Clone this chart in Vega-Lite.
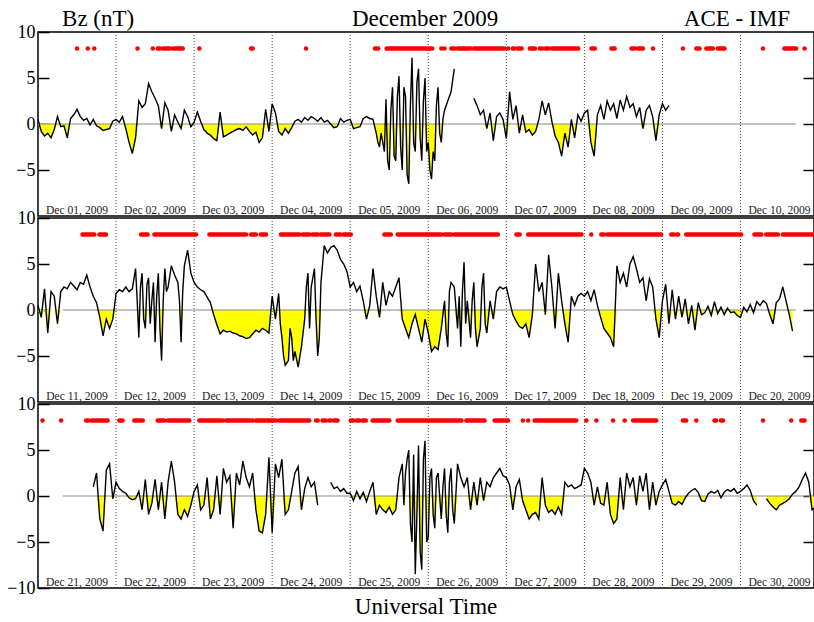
{
"$schema":"https://vega.github.io/schema/vega-lite/v6.json",
"background":"white",
"padding":{"left":6,"top":7,"right":0,"bottom":0},
"spacing":2,
"bounds":"flush",
"title":{"text":"Universal Time","orient":"bottom","anchor":"middle","frame":"group","fontSize":23,"font":"Liberation Serif","fontWeight":"normal","color":"black","offset":-2},
"config":{"view":{"stroke":"black","strokeWidth":1.5},"font":"Liberation Serif","text":{"font":"Liberation Serif"},"axis":{"labelFont":"Liberation Serif","titleFont":"Liberation Serif"}},
"datasets":{
"sep":[{"h":24},{"h":48},{"h":72},{"h":96},{"h":120},{"h":144},{"h":168},{"h":192},{"h":216}],
"lab1":[{"h":12,"t":"Dec 01, 2009"},{"h":36,"t":"Dec 02, 2009"},{"h":60,"t":"Dec 03, 2009"},{"h":84,"t":"Dec 04, 2009"},{"h":108,"t":"Dec 05, 2009"},{"h":132,"t":"Dec 06, 2009"},{"h":156,"t":"Dec 07, 2009"},{"h":180,"t":"Dec 08, 2009"},{"h":204,"t":"Dec 09, 2009"},{"h":228,"t":"Dec 10, 2009"}],
"lab2":[{"h":12,"t":"Dec 11, 2009"},{"h":36,"t":"Dec 12, 2009"},{"h":60,"t":"Dec 13, 2009"},{"h":84,"t":"Dec 14, 2009"},{"h":108,"t":"Dec 15, 2009"},{"h":132,"t":"Dec 16, 2009"},{"h":156,"t":"Dec 17, 2009"},{"h":180,"t":"Dec 18, 2009"},{"h":204,"t":"Dec 19, 2009"},{"h":228,"t":"Dec 20, 2009"}],
"lab3":[{"h":12,"t":"Dec 21, 2009"},{"h":36,"t":"Dec 22, 2009"},{"h":60,"t":"Dec 23, 2009"},{"h":84,"t":"Dec 24, 2009"},{"h":108,"t":"Dec 25, 2009"},{"h":132,"t":"Dec 26, 2009"},{"h":156,"t":"Dec 27, 2009"},{"h":180,"t":"Dec 28, 2009"},{"h":204,"t":"Dec 29, 2009"},{"h":228,"t":"Dec 30, 2009"}],
"r1":[{"a":12,"b":12},{"a":15.3,"b":15.3},{"a":17.3,"b":17.3},{"a":30.6,"b":30.6},{"a":35.3,"b":35.3},{"a":36.8,"b":37.5},{"a":38.5,"b":40.5},{"a":41.5,"b":44.5},{"a":49.6,"b":49.6},{"a":65.5,"b":66},{"a":82.4,"b":82.4},{"a":103.6,"b":104.6},{"a":107.2,"b":121.2},{"a":124,"b":124},{"a":125,"b":125},{"a":127.1,"b":128},{"a":129,"b":130.2},{"a":130.7,"b":133},{"a":134,"b":143.5},{"a":144.6,"b":144.6},{"a":146,"b":146.5},{"a":147.5,"b":148.7},{"a":151.2,"b":152.8},{"a":154.3,"b":155},{"a":156,"b":157},{"a":158,"b":166.1},{"a":170.2,"b":171.2},{"a":176.3,"b":177.3},{"a":182.5,"b":183.5},{"a":184.5,"b":186},{"a":189.1,"b":189.1},{"a":198.3,"b":198.3},{"a":202.4,"b":203.4},{"a":205.5,"b":207.5},{"a":209,"b":211.1},{"a":222.9,"b":222.9},{"a":229.5,"b":233.1},{"a":235.7,"b":235.7}],
"r2":[{"a":13.7,"b":17.3},{"a":18.9,"b":20.9},{"a":31.7,"b":33.7},{"a":35.8,"b":48.6},{"a":52.7,"b":58.8},{"a":59.3,"b":64},{"a":65.5,"b":67},{"a":68.5,"b":70.1},{"a":74.7,"b":80.3},{"a":81.4,"b":83.4},{"a":84.4,"b":86},{"a":87,"b":89.6},{"a":91.6,"b":93},{"a":94,"b":96.2},{"a":106.5,"b":108.5},{"a":110.6,"b":124},{"a":125,"b":127.1},{"a":128.1,"b":141.4},{"a":147.1,"b":148.1},{"a":150.7,"b":167.1},{"a":170.1,"b":170.1},{"a":173.2,"b":174},{"a":175,"b":191.6},{"a":194.7,"b":195.5},{"a":196.5,"b":196.8},{"a":199.3,"b":216.2},{"a":220.3,"b":222.4},{"a":223.9,"b":227.5},{"a":229,"b":238.6}],
"r3":[{"a":1.4,"b":1.4},{"a":7.1,"b":7.1},{"a":14.8,"b":15.5},{"a":16.5,"b":21.4},{"a":25,"b":26},{"a":29.6,"b":32.2},{"a":36.8,"b":38.8},{"a":39.9,"b":46.5},{"a":49.6,"b":56.8},{"a":57.8,"b":66},{"a":67,"b":73.2},{"a":74.2,"b":83.4},{"a":85.5,"b":86},{"a":87.5,"b":88.5},{"a":89.6,"b":90},{"a":91,"b":92.1},{"a":96.2,"b":97},{"a":98,"b":98.8},{"a":99.8,"b":100.8},{"a":102.9,"b":108},{"a":110.6,"b":130.2},{"a":131.7,"b":137.3},{"a":140.4,"b":144.5},{"a":149.1,"b":149.1},{"a":150.7,"b":150.7},{"a":152.7,"b":165.5},{"a":168.6,"b":168.6},{"a":171.7,"b":171.7},{"a":176.8,"b":176.8},{"a":180.4,"b":180.4},{"a":183,"b":190.1},{"a":198.3,"b":199.3},{"a":202.4,"b":202.4},{"a":208,"b":208.5},{"a":210,"b":210.6},{"a":222.9,"b":222.9},{"a":231.6,"b":231.6},{"a":234.7,"b":235.7}],
"p1":[{"h":0,"v":0.5},{"h":1,"v":-0.8},{"h":2,"v":-1.3},{"h":3,"v":-1.0},{"h":4,"v":-1.5},{"h":5,"v":-0.6},{"h":6,"v":0.8},{"h":7,"v":-0.3},{"h":8,"v":-0.2},{"h":9,"v":-1.5},{"h":10,"v":0.6},{"h":11,"v":1.0},{"h":12,"v":1.6},{"h":13,"v":0.8},{"h":14,"v":0.4},{"h":15,"v":0.6},{"h":16,"v":-0.1},{"h":17,"v":0.5},{"h":18,"v":-0.2},{"h":19,"v":-0.4},{"h":20,"v":-0.7},{"h":21,"v":-0.6},{"h":22,"v":-0.5},{"h":23,"v":0.3},
{"h":24,"v":0.5},{"h":25,"v":0.2},{"h":26,"v":0.8},{"h":27,"v":-0.5},{"h":28,"v":-2.0},{"h":29,"v":-3.2},{"h":30,"v":-1.5},{"h":31,"v":2.5},{"h":32,"v":1.8},{"h":33,"v":2.2},{"h":34,"v":4.4},{"h":35,"v":3.5},{"h":36,"v":2.8},{"h":37,"v":2.0},{"h":38,"v":-0.5},{"h":39,"v":2.3},{"h":40,"v":1.5},{"h":41,"v":-0.8},{"h":42,"v":1.0},{"h":43,"v":0.2},{"h":44,"v":-0.5},{"h":45,"v":1.5},{"h":46,"v":0.8},{"h":47,"v":-0.3},
{"h":48,"v":0.2},{"h":49,"v":1.3},{"h":50,"v":0.3},{"h":51,"v":-0.6},{"h":52,"v":-1.0},{"h":53,"v":-1.2},{"h":54,"v":-1.6},{"h":55,"v":-1.8},{"h":56,"v":1.3},{"h":57,"v":-1.4},{"h":58,"v":-1.2},{"h":59,"v":-1.0},{"h":60,"v":-0.8},{"h":61,"v":-0.6},{"h":62,"v":-0.5},{"h":63,"v":-0.7},{"h":64,"v":-0.3},{"h":65,"v":-0.8},{"h":66,"v":-1.2},{"h":67,"v":-0.9},{"h":68,"v":-2.0},{"h":69,"v":-1.5},{"h":70,"v":1.6},{"h":71,"v":-0.8},
{"h":72,"v":2.2},{"h":73,"v":1.2},{"h":74,"v":-0.8},{"h":75,"v":-1.2},{"h":76,"v":-0.5},{"h":77,"v":-1.0},{"h":78,"v":-0.4},{"h":79,"v":0.3},{"h":80,"v":0.5},{"h":81,"v":0.2},{"h":82,"v":0.7},{"h":83,"v":0.4},{"h":84,"v":0.8},{"h":85,"v":0.6},{"h":86,"v":0.3},{"h":87,"v":0.7},{"h":88,"v":0.2},{"h":89,"v":0.4},{"h":90,"v":0.0},{"h":91,"v":-0.4},{"h":92,"v":-0.3},{"h":93,"v":0.6},{"h":94,"v":0.2},{"h":95,"v":0.4},
{"h":96,"v":0.5},{"h":97,"v":-0.5},{"h":98,"v":-0.4},{"h":99,"v":-0.3},{"h":100,"v":0.6},{"h":101,"v":0.8},{"h":102,"v":0.6},{"h":103,"v":0.5},{"h":104,"v":-1.0},{"h":104.5,"v":-2.0},{"h":105,"v":-2.5},{"h":105.5,"v":-1.0},{"h":106,"v":-2.0},{"h":106.5,"v":-3.0},{"h":107,"v":2.7},{"h":107.5,"v":-4.0},{"h":108,"v":-5.0},{"h":108.5,"v":1.5},{"h":109,"v":4.0},{"h":109.5,"v":-3.5},{"h":110,"v":-4.0},{"h":110.5,"v":3.0},{"h":111,"v":5.2},{"h":111.5,"v":-2.5},{"h":112,"v":-5.0},{"h":112.5,"v":4.0},{"h":113,"v":3.0},{"h":113.5,"v":-5.5},{"h":114,"v":-6.5},{"h":114.5,"v":2.0},{"h":115,"v":7.2},{"h":115.5,"v":-2.0},{"h":116,"v":-3.0},{"h":116.5,"v":4.5},{"h":117,"v":6.0},{"h":117.5,"v":-1.5},{"h":118,"v":-4.0},{"h":118.5,"v":2.5},{"h":119,"v":5.0},{"h":119.5,"v":-3.0},
{"h":120,"v":-2.0},{"h":120.5,"v":-5.0},{"h":121,"v":-6.0},{"h":121.5,"v":-3.0},{"h":122,"v":-4.0},{"h":122.5,"v":2.0},{"h":123,"v":4.0},{"h":123.5,"v":-1.0},{"h":124,"v":-2.0},{"h":124.5,"v":0.5},{"h":125,"v":1.5},{"h":126,"v":2.5},{"h":127,"v":3.5},{"h":128,"v":6.0},{"h":130,"v":null},{"h":134,"v":2.8},{"h":135,"v":2.0},{"h":136,"v":1.0},{"h":137,"v":1.5},{"h":138,"v":-0.5},{"h":139,"v":1.2},{"h":140,"v":-1.8},{"h":141,"v":0.8},{"h":142,"v":1.2},{"h":143,"v":0.5},
{"h":144,"v":-1.6},{"h":145,"v":3.5},{"h":146,"v":0.5},{"h":147,"v":2.0},{"h":148,"v":-1.0},{"h":149,"v":1.0},{"h":150,"v":-0.9},{"h":151,"v":-0.6},{"h":152,"v":-1.2},{"h":153,"v":-0.8},{"h":154,"v":0.5},{"h":155,"v":2.5},{"h":156,"v":1.0},{"h":157,"v":2.3},{"h":158,"v":0.3},{"h":159,"v":-1.3},{"h":160,"v":-2.0},{"h":161,"v":-3.5},{"h":162,"v":-1.0},{"h":163,"v":-2.5},{"h":164,"v":0.5},{"h":165,"v":-1.5},{"h":166,"v":1.0},{"h":167,"v":0.3},
{"h":168,"v":1.2},{"h":169,"v":1.5},{"h":170,"v":-2.0},{"h":171,"v":-3.5},{"h":172,"v":1.0},{"h":173,"v":2.0},{"h":174,"v":0.5},{"h":175,"v":2.5},{"h":176,"v":1.5},{"h":177,"v":2.2},{"h":178,"v":0.6},{"h":179,"v":2.6},{"h":180,"v":1.5},{"h":181,"v":3.0},{"h":182,"v":1.8},{"h":183,"v":2.2},{"h":184,"v":0.8},{"h":185,"v":1.8},{"h":186,"v":-0.5},{"h":187,"v":1.5},{"h":188,"v":2.0},{"h":189,"v":0.8},{"h":190,"v":-1.8},{"h":191,"v":1.0},{"h":192,"v":2.2},{"h":193,"v":1.5},{"h":194,"v":2.0}],
"p2":[{"h":0,"v":0.5},{"h":1,"v":-0.8},{"h":2,"v":2.3},{"h":3,"v":-2.5},{"h":4,"v":2.0},{"h":5,"v":1.5},{"h":6,"v":-1.5},{"h":7,"v":2.0},{"h":8,"v":2.5},{"h":9,"v":2.3},{"h":10,"v":3.0},{"h":11,"v":2.6},{"h":12,"v":2.2},{"h":13,"v":3.0},{"h":14,"v":2.8},{"h":15,"v":3.8},{"h":16,"v":2.5},{"h":17,"v":1.5},{"h":18,"v":0.8},{"h":19,"v":-0.8},{"h":20,"v":-2.8},{"h":21,"v":-1.0},{"h":22,"v":-2.0},{"h":23,"v":-1.0},
{"h":24,"v":1.8},{"h":25,"v":2.2},{"h":26,"v":2.0},{"h":27,"v":2.5},{"h":28,"v":2.0},{"h":29,"v":2.3},{"h":30,"v":4.5},{"h":30.5,"v":1.0},{"h":31,"v":-3.0},{"h":31.5,"v":2.5},{"h":32,"v":4.0},{"h":32.5,"v":-1.0},{"h":33,"v":-2.0},{"h":33.5,"v":2.8},{"h":34,"v":3.5},{"h":34.5,"v":-1.5},{"h":35,"v":1.0},{"h":35.5,"v":3.0},{"h":36,"v":-3.5},{"h":36.5,"v":1.5},{"h":37,"v":4.0},{"h":37.5,"v":-2.0},{"h":38,"v":-5.5},{"h":38.5,"v":1.0},{"h":39,"v":4.5},{"h":39.5,"v":2.0},{"h":40,"v":2.5},{"h":41,"v":4.8},{"h":42,"v":3.8},{"h":43,"v":3.0},{"h":43.5,"v":1.0},{"h":44,"v":-3.5},{"h":44.5,"v":2.0},{"h":45,"v":4.8},{"h":46,"v":6.5},{"h":47,"v":4.0},
{"h":48,"v":3.0},{"h":49,"v":2.5},{"h":50,"v":2.2},{"h":51,"v":2.0},{"h":52,"v":1.4},{"h":53,"v":0.8},{"h":54,"v":-0.5},{"h":55,"v":-1.6},{"h":56,"v":-2.6},{"h":57,"v":-2.2},{"h":58,"v":-2.4},{"h":59,"v":-2.3},{"h":60,"v":-2.5},{"h":61,"v":-2.6},{"h":62,"v":-2.8},{"h":63,"v":-2.9},{"h":64,"v":-3.1},{"h":65,"v":-3.0},{"h":66,"v":-2.6},{"h":67,"v":-2.2},{"h":68,"v":-2.4},{"h":69,"v":-2.0},{"h":70,"v":-2.2},{"h":71,"v":-2.5},
{"h":72,"v":1.5},{"h":73,"v":-1.0},{"h":74,"v":1.8},{"h":74.5,"v":-1.5},{"h":75,"v":-3.0},{"h":75.5,"v":-5.0},{"h":76,"v":-6.0},{"h":77,"v":-5.5},{"h":77.5,"v":-2.0},{"h":78,"v":-3.0},{"h":78.5,"v":-5.5},{"h":79,"v":-4.5},{"h":80,"v":-6.2},{"h":81,"v":-4.0},{"h":82,"v":-1.0},{"h":82.5,"v":2.5},{"h":83,"v":4.0},{"h":83.5,"v":-2.0},{"h":84,"v":2.5},{"h":84.5,"v":3.5},{"h":85,"v":4.5},{"h":85.5,"v":-1.0},{"h":86,"v":-5.0},{"h":86.5,"v":-3.0},{"h":87,"v":3.0},{"h":87.5,"v":5.0},{"h":88,"v":7.0},{"h":89,"v":6.2},{"h":90,"v":6.8},{"h":91,"v":7.0},{"h":92,"v":6.5},{"h":93,"v":5.5},{"h":94,"v":5.0},{"h":95,"v":4.2},
{"h":96,"v":2.5},{"h":97,"v":3.0},{"h":98,"v":2.0},{"h":99,"v":2.6},{"h":100,"v":1.0},{"h":101,"v":-1.0},{"h":102,"v":0.5},{"h":103,"v":4.5},{"h":104,"v":1.5},{"h":105,"v":-0.8},{"h":106,"v":3.0},{"h":107,"v":0.5},{"h":108,"v":2.0},{"h":109,"v":1.5},{"h":110,"v":2.5},{"h":111,"v":3.5},{"h":112,"v":-1.0},{"h":113,"v":-2.0},{"h":114,"v":-3.0},{"h":115,"v":-1.5},{"h":116,"v":-0.5},{"h":117,"v":-2.0},{"h":118,"v":-3.5},{"h":119,"v":-1.0},
{"h":120,"v":-2.5},{"h":121,"v":-4.5},{"h":122,"v":-4.0},{"h":123,"v":-4.3},{"h":124,"v":-2.0},{"h":125,"v":1.0},{"h":125.5,"v":-2.5},{"h":126,"v":-4.0},{"h":126.5,"v":2.0},{"h":127,"v":3.0},{"h":128,"v":2.5},{"h":129,"v":-2.0},{"h":129.5,"v":1.5},{"h":130,"v":-4.0},{"h":130.5,"v":2.0},{"h":131,"v":5.2},{"h":131.5,"v":-1.5},{"h":132,"v":1.0},{"h":133,"v":-3.0},{"h":133.5,"v":1.0},{"h":134,"v":3.0},{"h":134.5,"v":-2.0},{"h":135,"v":-4.0},{"h":136,"v":-2.0},{"h":136.5,"v":2.5},{"h":137,"v":4.0},{"h":137.5,"v":-1.5},{"h":138,"v":-2.5},{"h":139,"v":1.0},{"h":140,"v":-1.0},{"h":141,"v":2.0},{"h":142,"v":2.5},{"h":143,"v":2.3},
{"h":144,"v":2.5},{"h":145,"v":1.0},{"h":146,"v":-0.5},{"h":147,"v":-1.2},{"h":148,"v":-1.8},{"h":149,"v":-2.0},{"h":150,"v":-1.5},{"h":151,"v":-3.0},{"h":152,"v":-0.5},{"h":153,"v":5.0},{"h":154,"v":2.0},{"h":155,"v":3.0},{"h":156,"v":-0.5},{"h":157,"v":6.0},{"h":158,"v":2.5},{"h":159,"v":-2.0},{"h":160,"v":4.0},{"h":161,"v":1.0},{"h":162,"v":-1.5},{"h":163,"v":-3.5},{"h":164,"v":1.5},{"h":165,"v":0.5},{"h":166,"v":1.5},{"h":167,"v":1.8},
{"h":168,"v":1.5},{"h":169,"v":2.0},{"h":170,"v":1.0},{"h":171,"v":2.2},{"h":172,"v":0.5},{"h":173,"v":-0.8},{"h":174,"v":-2.0},{"h":175,"v":-2.5},{"h":176,"v":-3.0},{"h":177,"v":-4.0},{"h":178,"v":4.8},{"h":179,"v":3.0},{"h":180,"v":4.0},{"h":181,"v":2.5},{"h":182,"v":5.0},{"h":183,"v":5.8},{"h":184,"v":4.5},{"h":185,"v":3.0},{"h":186,"v":3.5},{"h":187,"v":1.0},{"h":188,"v":3.4},{"h":189,"v":2.5},{"h":190,"v":-1.0},{"h":191,"v":-3.0},
{"h":192,"v":1.0},{"h":193,"v":2.8},{"h":194,"v":-1.5},{"h":195,"v":2.2},{"h":196,"v":-1.0},{"h":197,"v":1.5},{"h":198,"v":-0.8},{"h":199,"v":1.2},{"h":200,"v":-1.5},{"h":201,"v":0.5},{"h":202,"v":-2.2},{"h":203,"v":0.8},{"h":204,"v":-0.5},{"h":205,"v":-0.3},{"h":206,"v":0.4},{"h":207,"v":-0.6},{"h":208,"v":0.9},{"h":209,"v":-0.4},{"h":210,"v":0.3},{"h":211,"v":-0.5},{"h":212,"v":0.2},{"h":213,"v":-0.3},{"h":214,"v":-0.2},{"h":215,"v":-0.6},
{"h":216,"v":-0.8},{"h":217,"v":0.3},{"h":218,"v":-0.2},{"h":219,"v":0.6},{"h":220,"v":-0.3},{"h":221,"v":0.9},{"h":222,"v":0.5},{"h":223,"v":1.0},{"h":224,"v":0.7},{"h":225,"v":-0.5},{"h":226,"v":-1.5},{"h":227,"v":0.8},{"h":228,"v":1.2},{"h":229,"v":2.5},{"h":230,"v":1.0},{"h":231,"v":-0.5},{"h":232,"v":-2.3}],
"p3":[{"h":17,"v":1.0},{"h":18,"v":2.5},{"h":19,"v":-2.5},{"h":20,"v":-3.8},{"h":21,"v":2.8},{"h":22,"v":3.5},{"h":23,"v":-0.3},
{"h":24,"v":1.5},{"h":25,"v":0.8},{"h":26,"v":0.5},{"h":27,"v":0.3},{"h":28,"v":-0.2},{"h":29,"v":-0.4},{"h":30,"v":-0.3},{"h":31,"v":0.5},{"h":32,"v":-1.5},{"h":33,"v":1.8},{"h":34,"v":-2.0},{"h":35,"v":-0.8},{"h":36,"v":1.8},{"h":37,"v":-1.5},{"h":38,"v":1.5},{"h":39,"v":-2.5},{"h":40,"v":1.5},{"h":41,"v":3.8},{"h":42,"v":1.5},{"h":43,"v":-2.0},{"h":44,"v":-2.5},{"h":45,"v":-1.5},{"h":46,"v":-2.2},{"h":47,"v":-1.0},
{"h":48,"v":0.5},{"h":49,"v":1.2},{"h":50,"v":-1.5},{"h":51,"v":-1.0},{"h":52,"v":2.0},{"h":53,"v":-2.5},{"h":54,"v":-1.5},{"h":55,"v":2.2},{"h":56,"v":-2.0},{"h":57,"v":3.0},{"h":58,"v":1.5},{"h":59,"v":2.2},{"h":60,"v":-3.5},{"h":61,"v":2.5},{"h":62,"v":1.2},{"h":63,"v":3.8},{"h":64,"v":2.0},{"h":65,"v":1.0},{"h":66,"v":2.5},{"h":67,"v":-1.5},{"h":68,"v":-3.8},{"h":69,"v":-4.0},{"h":70,"v":-2.0},{"h":71,"v":4.2},
{"h":72,"v":-4.0},{"h":73,"v":3.5},{"h":74,"v":2.0},{"h":75,"v":4.0},{"h":76,"v":-2.0},{"h":77,"v":-1.5},{"h":78,"v":0.5},{"h":79,"v":2.5},{"h":80,"v":3.2},{"h":81,"v":-1.5},{"h":82,"v":0.8},{"h":83,"v":2.0},{"h":84,"v":1.0},{"h":85,"v":1.5},{"h":86,"v":-1.0},{"h":88,"v":null},{"h":90,"v":1.5},{"h":91,"v":0.8},{"h":92,"v":1.0},{"h":93,"v":0.5},{"h":94,"v":0.8},{"h":95,"v":0.3},
{"h":96,"v":0.3},{"h":97,"v":-0.5},{"h":98,"v":0.5},{"h":99,"v":-0.3},{"h":100,"v":0.4},{"h":101,"v":-0.6},{"h":102,"v":0.5},{"h":103,"v":1.5},{"h":104,"v":-2.0},{"h":105,"v":-1.0},{"h":106,"v":-1.5},{"h":107,"v":-1.8},{"h":108,"v":-1.2},{"h":109,"v":-2.0},{"h":110,"v":-1.5},{"h":111,"v":2.0},{"h":112,"v":3.5},{"h":112.5,"v":-1.0},{"h":113,"v":2.5},{"h":113.5,"v":4.0},{"h":114,"v":5.0},{"h":114.5,"v":-3.0},{"h":115,"v":-5.0},{"h":115.5,"v":4.5},{"h":116,"v":-8.5},{"h":116.5,"v":-2.0},{"h":117,"v":5.5},{"h":117.5,"v":-6.0},{"h":118,"v":-8.0},{"h":118.5,"v":4.0},{"h":119,"v":6.0},{"h":119.5,"v":-5.0},
{"h":120,"v":-4.5},{"h":120.5,"v":2.0},{"h":121,"v":3.0},{"h":121.5,"v":-2.0},{"h":122,"v":-3.5},{"h":122.5,"v":2.0},{"h":123,"v":2.5},{"h":124,"v":-2.5},{"h":124.5,"v":1.0},{"h":125,"v":3.0},{"h":125.5,"v":-2.0},{"h":126,"v":-4.0},{"h":126.5,"v":1.5},{"h":127,"v":3.0},{"h":127.5,"v":-1.5},{"h":128,"v":-3.0},{"h":129,"v":3.5},{"h":130,"v":2.0},{"h":131,"v":1.0},{"h":132,"v":2.0},{"h":133,"v":-1.5},{"h":134,"v":1.5},{"h":135,"v":-1.0},{"h":136,"v":2.0},{"h":137,"v":-0.5},{"h":138,"v":1.5},{"h":139,"v":1.0},{"h":140,"v":2.0},{"h":141,"v":2.5},{"h":142,"v":3.0},{"h":143,"v":2.2},
{"h":144,"v":2.0},{"h":145,"v":1.2},{"h":146,"v":-1.5},{"h":147,"v":1.0},{"h":148,"v":1.8},{"h":149,"v":-0.5},{"h":150,"v":-1.5},{"h":151,"v":-2.5},{"h":152,"v":-2.0},{"h":153,"v":-1.8},{"h":154,"v":-2.5},{"h":155,"v":2.0},{"h":156,"v":-1.0},{"h":157,"v":-1.8},{"h":158,"v":-1.5},{"h":159,"v":-2.0},{"h":160,"v":-1.2},{"h":161,"v":-2.0},{"h":162,"v":1.5},{"h":163,"v":1.0},{"h":164,"v":1.2},{"h":165,"v":0.8},{"h":166,"v":1.0},{"h":167,"v":1.2},
{"h":168,"v":3.0},{"h":169,"v":2.5},{"h":170,"v":1.5},{"h":171,"v":-1.0},{"h":172,"v":1.0},{"h":173,"v":-0.8},{"h":174,"v":-1.0},{"h":175,"v":1.5},{"h":176,"v":-2.0},{"h":177,"v":-3.0},{"h":178,"v":-2.5},{"h":179,"v":2.0},{"h":180,"v":-1.5},{"h":181,"v":2.5},{"h":182,"v":1.0},{"h":183,"v":2.0},{"h":184,"v":-1.0},{"h":185,"v":2.2},{"h":186,"v":0.5},{"h":187,"v":2.5},{"h":188,"v":-1.5},{"h":189,"v":1.5},{"h":190,"v":-1.0},{"h":191,"v":0.5},
{"h":192,"v":1.2},{"h":193,"v":1.8},{"h":194,"v":0.5},{"h":195,"v":-0.8},{"h":196,"v":-1.0},{"h":197,"v":-0.6},{"h":198,"v":-0.9},{"h":199,"v":-0.2},{"h":200,"v":0.3},{"h":201,"v":0.6},{"h":202,"v":0.8},{"h":203,"v":0.4},{"h":204,"v":-0.5},{"h":205,"v":-0.6},{"h":206,"v":0.2},{"h":207,"v":0.5},{"h":208,"v":0.3},{"h":209,"v":0.6},{"h":210,"v":-0.2},{"h":211,"v":0.4},{"h":212,"v":0.7},{"h":213,"v":0.5},{"h":214,"v":0.8},{"h":215,"v":0.3},
{"h":216,"v":0.5},{"h":217,"v":0.8},{"h":218,"v":1.2},{"h":219,"v":0.6},{"h":220,"v":-0.5},{"h":221,"v":-1.0},{"h":222,"v":null},{"h":224,"v":-0.3},{"h":225,"v":-0.8},{"h":226,"v":-1.2},{"h":227,"v":-1.5},{"h":228,"v":-1.0},{"h":229,"v":-0.8},{"h":230,"v":-0.6},{"h":231,"v":-0.3},{"h":232,"v":0.2},{"h":233,"v":0.5},{"h":234,"v":1.0},{"h":235,"v":1.8},{"h":236,"v":2.5},{"h":237,"v":1.5},{"h":238,"v":-1.5},{"h":239,"v":-1.2}]
},
"vconcat":[
{"width":776,"height":184,"resolve":{"scale":{"y":"independent"}},
"layer":[
{"data":{"name":"p1"},"mark":{"type":"area","color":"#ffff00"},"encoding":{"x":{"field":"h","type":"quantitative","scale":{"domain":[0,238.6],"nice":false,"zero":false},"axis":null},"y":{"field":"v","type":"quantitative","scale":{"domain":[-10,0],"range":[184,92],"clamp":true,"nice":false},"axis":null},"y2":{"datum":0}}},
{"data":{"name":"sep"},"mark":{"type":"rule","color":"#444","strokeDash":[1,2],"strokeWidth":1},"encoding":{"x":{"field":"h","type":"quantitative","axis":null}}},
{"data":{"values":[{}]},"mark":{"type":"rule","color":"#888","strokeWidth":1},"encoding":{"x":{"datum":0,"type":"quantitative","axis":null},"x2":{"datum":233},"y":{"datum":0,"type":"quantitative","scale":{"domain":[-10,10],"nice":false},"axis":{"orient":"right","values":[-5,0,5],"labels":false,"tickSize":-11,"tickColor":"black","tickWidth":1.5,"domain":false,"grid":false,"title":null}}}},
{"data":{"name":"p1"},"mark":{"type":"line","color":"black","strokeWidth":1.4},"encoding":{"x":{"field":"h","type":"quantitative","axis":null},"y":{"field":"v","type":"quantitative","scale":{"domain":[-10,10],"nice":false},"axis":{"orient":"left","values":[-5,0,5,10],"tickSize":-11,"labelPadding":14,"tickColor":"black","tickWidth":1.5,"domain":false,"grid":false,"title":null,"labelFontSize":18,"labelColor":"black","labelFlush":false}}}},
{"data":{"name":"r1"},"mark":{"type":"rule","color":"#ff0000","strokeWidth":4.5,"strokeCap":"round"},"encoding":{"x":{"field":"a","type":"quantitative","axis":null},"x2":{"field":"b"},"y":{"datum":8.2,"type":"quantitative","scale":{"domain":[-10,10],"nice":false},"axis":null}}},
{"data":{"name":"lab1"},"mark":{"type":"text","fontSize":11.6,"color":"#222","baseline":"alphabetic","dy":-2},"encoding":{"x":{"field":"h","type":"quantitative","axis":null},"y":{"datum":-10,"type":"quantitative","scale":{"domain":[-10,10],"nice":false},"axis":null},"text":{"field":"t"}}},
{"data":{"values":[{"t":"Bz (nT)"}]},"mark":{"type":"text","fontSize":23,"color":"black","align":"left","baseline":"alphabetic"},"encoding":{"x":{"datum":7.4,"type":"quantitative","axis":null},"y":{"datum":10.6,"type":"quantitative","scale":{"domain":[-10,10],"nice":false},"axis":null},"text":{"field":"t"}}},
{"data":{"values":[{"t":"December 2009"}]},"mark":{"type":"text","fontSize":23,"color":"black","align":"center","baseline":"alphabetic"},"encoding":{"x":{"datum":119,"type":"quantitative","axis":null},"y":{"datum":10.6,"type":"quantitative","scale":{"domain":[-10,10],"nice":false},"axis":null},"text":{"field":"t"}}},
{"data":{"values":[{"t":"ACE - IMF"}]},"mark":{"type":"text","fontSize":23,"color":"black","align":"right","baseline":"alphabetic"},"encoding":{"x":{"datum":231.2,"type":"quantitative","axis":null},"y":{"datum":10.6,"type":"quantitative","scale":{"domain":[-10,10],"nice":false},"axis":null},"text":{"field":"t"}}}
]},
{"width":776,"height":184,"resolve":{"scale":{"y":"independent"}},
"layer":[
{"data":{"name":"p2"},"mark":{"type":"area","color":"#ffff00"},"encoding":{"x":{"field":"h","type":"quantitative","scale":{"domain":[0,238.6],"nice":false,"zero":false},"axis":null},"y":{"field":"v","type":"quantitative","scale":{"domain":[-10,0],"range":[184,92],"clamp":true,"nice":false},"axis":null},"y2":{"datum":0}}},
{"data":{"name":"sep"},"mark":{"type":"rule","color":"#444","strokeDash":[1,2],"strokeWidth":1},"encoding":{"x":{"field":"h","type":"quantitative","axis":null}}},
{"data":{"values":[{}]},"mark":{"type":"rule","color":"#888","strokeWidth":1},"encoding":{"x":{"datum":7.6,"type":"quantitative","axis":null},"x2":{"datum":233},"y":{"datum":0,"type":"quantitative","scale":{"domain":[-10,10],"nice":false},"axis":{"orient":"right","values":[-5,0,5],"labels":false,"tickSize":-11,"tickColor":"black","tickWidth":1.5,"domain":false,"grid":false,"title":null}}}},
{"data":{"name":"p2"},"mark":{"type":"line","color":"black","strokeWidth":1.4},"encoding":{"x":{"field":"h","type":"quantitative","axis":null},"y":{"field":"v","type":"quantitative","scale":{"domain":[-10,10],"nice":false},"axis":{"orient":"left","values":[-5,0,5,10],"tickSize":-11,"labelPadding":14,"tickColor":"black","tickWidth":1.5,"domain":false,"grid":false,"title":null,"labelFontSize":18,"labelColor":"black","labelFlush":false}}}},
{"data":{"name":"r2"},"mark":{"type":"rule","color":"#ff0000","strokeWidth":4.5,"strokeCap":"round"},"encoding":{"x":{"field":"a","type":"quantitative","axis":null},"x2":{"field":"b"},"y":{"datum":8.2,"type":"quantitative","scale":{"domain":[-10,10],"nice":false},"axis":null}}},
{"data":{"name":"lab2"},"mark":{"type":"text","fontSize":11.6,"color":"#222","baseline":"alphabetic","dy":-2},"encoding":{"x":{"field":"h","type":"quantitative","axis":null},"y":{"datum":-10,"type":"quantitative","scale":{"domain":[-10,10],"nice":false},"axis":null},"text":{"field":"t"}}}
]},
{"width":776,"height":184,"resolve":{"scale":{"y":"independent"}},
"layer":[
{"data":{"name":"p3"},"mark":{"type":"area","color":"#ffff00"},"encoding":{"x":{"field":"h","type":"quantitative","scale":{"domain":[0,238.6],"nice":false,"zero":false},"axis":null},"y":{"field":"v","type":"quantitative","scale":{"domain":[-10,0],"range":[184,92],"clamp":true,"nice":false},"axis":null},"y2":{"datum":0}}},
{"data":{"name":"sep"},"mark":{"type":"rule","color":"#444","strokeDash":[1,2],"strokeWidth":1},"encoding":{"x":{"field":"h","type":"quantitative","axis":null}}},
{"data":{"values":[{}]},"mark":{"type":"rule","color":"#888","strokeWidth":1},"encoding":{"x":{"datum":7.6,"type":"quantitative","axis":null},"x2":{"datum":238.6},"y":{"datum":0,"type":"quantitative","scale":{"domain":[-10,10],"nice":false},"axis":{"orient":"right","values":[-5,0,5],"labels":false,"tickSize":-11,"tickColor":"black","tickWidth":1.5,"domain":false,"grid":false,"title":null}}}},
{"data":{"name":"p3"},"mark":{"type":"line","color":"black","strokeWidth":1.4},"encoding":{"x":{"field":"h","type":"quantitative","axis":null},"y":{"field":"v","type":"quantitative","scale":{"domain":[-10,10],"nice":false},"axis":{"orient":"left","values":[-10,-5,0,5,10],"tickSize":-11,"labelPadding":14,"tickColor":"black","tickWidth":1.5,"domain":false,"grid":false,"title":null,"labelFontSize":18,"labelColor":"black","labelFlush":false}}}},
{"data":{"name":"r3"},"mark":{"type":"rule","color":"#ff0000","strokeWidth":4.5,"strokeCap":"round"},"encoding":{"x":{"field":"a","type":"quantitative","axis":null},"x2":{"field":"b"},"y":{"datum":8.2,"type":"quantitative","scale":{"domain":[-10,10],"nice":false},"axis":null}}},
{"data":{"name":"lab3"},"mark":{"type":"text","fontSize":11.6,"color":"#222","baseline":"alphabetic","dy":-2},"encoding":{"x":{"field":"h","type":"quantitative","axis":null},"y":{"datum":-10,"type":"quantitative","scale":{"domain":[-10,10],"nice":false},"axis":null},"text":{"field":"t"}}}
]}
]
}
